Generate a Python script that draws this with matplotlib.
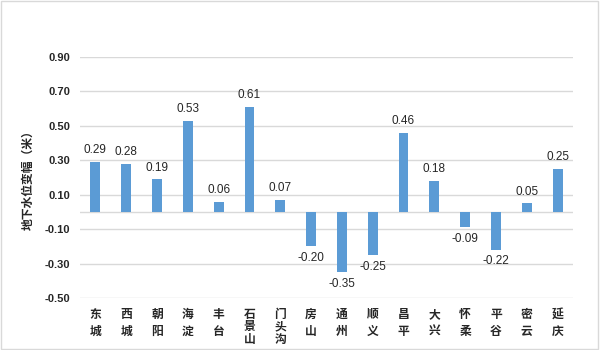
import matplotlib
matplotlib.use("Agg")
import matplotlib.pyplot as plt
import numpy as np

plt.rcParams['font.family'] = ['Noto Sans CJK SC', 'DejaVu Sans']

categories = ["东\n城", "西\n城", "朝\n阳", "海\n淀", "丰\n台", "石\n景\n山", "门\n头\n沟", "房\n山",
              "通\n州", "顺\n义", "昌\n平", "大\n兴", "怀\n柔", "平\n谷", "密\n云", "延\n庆"]
values = [0.29, 0.28, 0.19, 0.53, 0.06, 0.61, 0.07, -0.20, -0.35, -0.25, 0.46, 0.18, -0.09, -0.22, 0.05, 0.25]
yticks = [-0.50, -0.30, -0.10, 0.10, 0.30, 0.50, 0.70, 0.90]
ylabel = "地下水位变幅（米）"

fig = plt.figure(figsize=(6, 3.5), dpi=100)
ax = fig.add_axes([80/600, 1-298/350, (573-80)/600, (298-57)/350])

x = np.arange(len(categories))
ax.bar(x, values, width=0.32, color='#5B9BD5', zorder=3)
ax.set_xlim(-0.5, len(categories)-0.5)
ax.set_ylim(-0.5, 0.9)
ax.set_yticks(yticks)
ax.set_yticklabels([f"{v:.2f}" for v in yticks], fontsize=8, fontweight='bold',
                   family=['Liberation Sans', 'DejaVu Sans'], color='#262626')
for v in yticks:
    ax.axhline(v, color='#D9D9D9', lw=1, zorder=1)
ax.axhline(0, color='#D9D9D9', lw=1, zorder=2)

ax.set_xticks(x)
ax.set_xticklabels(categories, fontsize=8.5, fontweight='bold', color='#262626', va='top')
for lab, c in zip(ax.get_xticklabels(), categories):
    if c.count("\n") == 2:
        lab.set_linespacing(0.95)
    else:
        lab.set_linespacing(1.45)

ax.tick_params(axis='both', length=0)
ax.tick_params(axis='x', pad=7)
ax.tick_params(axis='y', pad=7)
for s in ax.spines.values():
    s.set_visible(False)

for xi, v in zip(x, values):
    if v >= 0:
        ax.annotate(f"{v:.2f}", (xi, v), xytext=(0, 4), textcoords='offset points',
                    ha='center', va='bottom', fontsize=8.5, color='#262626',
                    family=['Liberation Sans', 'DejaVu Sans'])
    else:
        ax.annotate(f"{v:.2f}", (xi, v), xytext=(0, -4), textcoords='offset points',
                    ha='center', va='top', fontsize=8.5, color='#262626',
                    family=['Liberation Sans', 'DejaVu Sans'])

ax.set_ylabel(ylabel, fontsize=8.5, fontweight='bold', color='#262626', labelpad=7)

# chart border
fig.patches.append(plt.Rectangle((0.002, 0.003), 0.995, 0.994, transform=fig.transFigure,
                                 fill=False, edgecolor='#D9D9D9', lw=1))

fig.savefig("out.png", dpi=100)
